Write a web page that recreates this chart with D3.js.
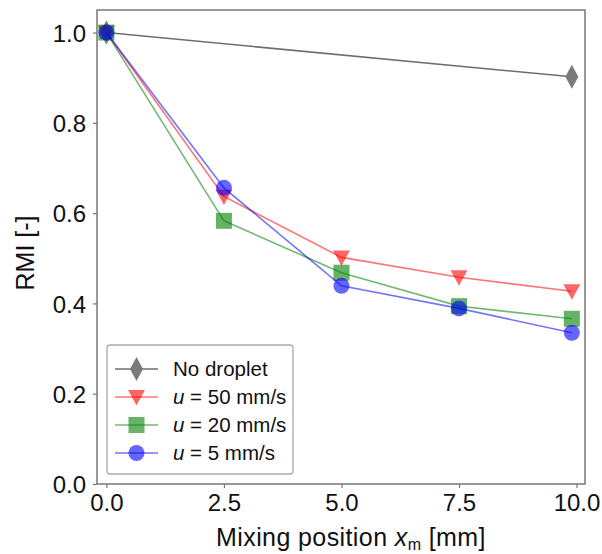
<!DOCTYPE html>
<html><head><meta charset="utf-8">
<script src="https://cdn.jsdelivr.net/npm/d3@7"></script>
<style>body{margin:0;background:#fff}svg{font-family:"Liberation Sans",Arial,sans-serif}</style>
</head><body><svg id="c" width="602" height="554"></svg>
<script>
const xValues = [0, 2.5, 5, 7.5, 9.9];
const noDropletX = [0, 9.9];
const noDroplet = [1.0, 0.902];
const u50 = [1.0, 0.637, 0.502, 0.458, 0.427];
const u20 = [1.0, 0.583, 0.468, 0.394, 0.366];
const u5 = [1.0, 0.656, 0.439, 0.389, 0.335];
const xTicks = [0, 2.5, 5, 7.5, 10];
const yTicks = [0, 0.2, 0.4, 0.6, 0.8, 1.0];
const seriesNames = ["No droplet", "u = 50 mm/s", "u = 20 mm/s", "u = 5 mm/s"];

const svg = d3.select("#c");
const L = 97, R = 585, T = 10, B = 484;
const x = d3.scaleLinear().domain([-0.2, 10.18]).range([L, R]);
const y = d3.scaleLinear().domain([0, 1.05]).range([B, T]);

const series = [
  {name: seriesNames[0], xs: noDropletX, ys: noDroplet, color: "#6e6e6e", mfill: "#7a7a7a", shape: "diamond"},
  {name: seriesNames[1], xs: xValues, ys: u50, color: "rgba(255,0,0,0.55)", mfill: "rgba(255,0,0,0.6)", shape: "tri"},
  {name: seriesNames[2], xs: xValues, ys: u20, color: "rgba(0,128,0,0.55)", mfill: "rgba(0,128,0,0.6)", shape: "square"},
  {name: seriesNames[3], xs: xValues, ys: u5, color: "rgba(0,0,255,0.55)", mfill: "rgba(0,0,255,0.6)", shape: "circle"}
];

function marker(g, shape, cx, cy, fill) {
  if (shape === "diamond") {
    g.append("path").attr("d", `M${cx},${cy-12}L${cx+6.5},${cy}L${cx},${cy+12}L${cx-6.5},${cy}Z`).attr("fill", fill);
  } else if (shape === "tri") {
    g.append("path").attr("d", `M${cx-8.5},${cy-7}L${cx+8.5},${cy-7}L${cx},${cy+8.5}Z`).attr("fill", fill);
  } else if (shape === "square") {
    g.append("rect").attr("x", cx-8).attr("y", cy-8).attr("width", 16).attr("height", 16).attr("fill", fill);
  } else {
    g.append("circle").attr("cx", cx).attr("cy", cy).attr("r", 8).attr("fill", fill);
  }
}

// axes
const xAxis = svg.append("g").attr("transform", `translate(0,${B})`)
  .call(d3.axisBottom(x).tickValues(xTicks).tickFormat(d3.format(".1f")).tickSize(4).tickPadding(6));
const yAxis = svg.append("g").attr("transform", `translate(${L},0)`)
  .call(d3.axisLeft(y).tickValues(yTicks).tickFormat(d3.format(".1f")).tickSize(4).tickPadding(7));
[xAxis, yAxis].forEach(a => {
  a.select(".domain").remove();
  a.selectAll("line").attr("stroke", "#777").attr("stroke-width", 1.2);
  a.selectAll("text").attr("font-size", 24).attr("fill", "#111").attr("font-family", "Liberation Sans, Arial, sans-serif");
});
yAxis.selectAll("text").attr("dy", "0.36em");

// lines & markers
series.forEach(s => {
  const pts = s.xs.map((xv, i) => [x(xv), y(s.ys[i])]);
  svg.append("path").attr("d", d3.line()(pts)).attr("fill", "none").attr("stroke", s.color).attr("stroke-width", 1.6);
  const g = svg.append("g");
  pts.forEach(p => marker(g, s.shape, p[0], p[1], s.mfill));
});

// frame
svg.append("rect").attr("x", L).attr("y", T).attr("width", R-L).attr("height", B-T)
  .attr("fill", "none").attr("stroke", "#777").attr("stroke-width", 1.5);

// axis labels
svg.append("text").attr("x", 351).attr("y", 546).attr("text-anchor", "middle").attr("font-size", 25).attr("letter-spacing", 0.4).attr("fill", "#111")
  .call(t => {
    t.append("tspan").text("Mixing position ");
    t.append("tspan").attr("font-style", "italic").text("x");
    t.append("tspan").attr("font-size", 16).attr("dy", 4).text("m");
    t.append("tspan").attr("dy", -4).text(" [mm]");
  });
svg.append("text").attr("transform", "translate(34,253) rotate(-90)").attr("text-anchor", "middle")
  .attr("font-size", 25).attr("fill", "#111").text("RMI [-]");

// legend
const lg = svg.append("g");
lg.append("rect").attr("x", 107).attr("y", 345).attr("width", 186).attr("height", 129).attr("rx", 3)
  .attr("fill", "#fff").attr("fill-opacity", 0.85).attr("stroke", "#aaa").attr("stroke-width", 1.3);
const ly = [369, 397, 425, 453];
series.forEach((s, i) => {
  lg.append("line").attr("x1", 115).attr("x2", 158).attr("y1", ly[i]).attr("y2", ly[i]).attr("stroke", s.color).attr("stroke-width", 1.6);
  marker(lg, s.shape, 136.5, ly[i], s.mfill);
  const t = lg.append("text").attr("x", 173).attr("y", ly[i] + 7).attr("font-size", 20.5).attr("fill", "#111");
  if (i === 0) t.text(s.name);
  else {
    t.append("tspan").attr("font-style", "italic").text("u");
    t.append("tspan").text(s.name.slice(1));
  }
});
</script></body></html>
